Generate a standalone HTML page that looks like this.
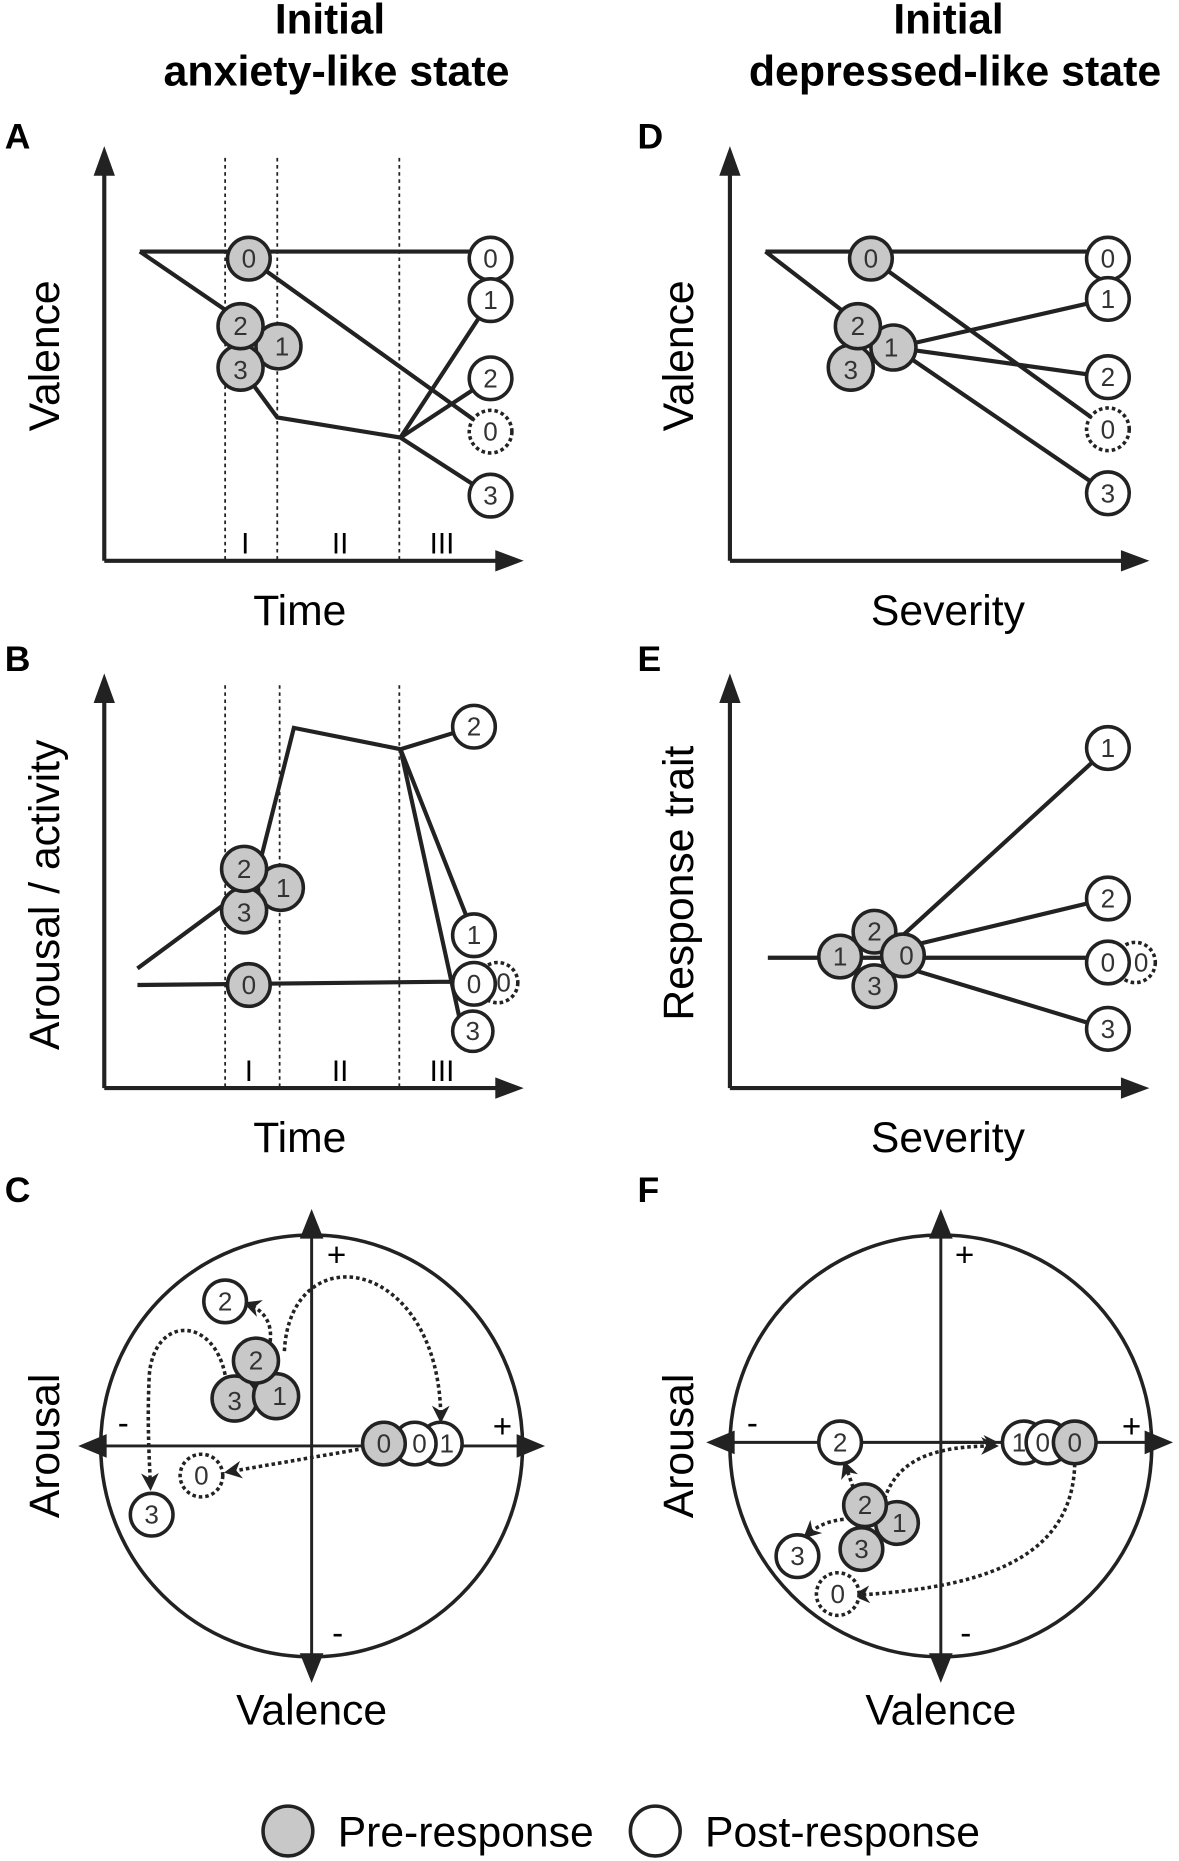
<!DOCTYPE html>
<html><head><meta charset="utf-8"><style>
html,body{margin:0;padding:0;background:#fff}
svg{display:block}
text{font-family:"Liberation Sans",sans-serif}
.n{font-size:22px;text-anchor:middle;dominant-baseline:central;fill:#333}
.g{fill:#c8c8c8;stroke:#222;stroke-width:3}
.w{fill:#fff;stroke:#222;stroke-width:3}
.d{fill:#fff;stroke:#222;stroke-width:3;stroke-dasharray:3 2.5}
.l{fill:none;stroke:#222;stroke-width:3.5}
.t{fill:none;stroke:#222;stroke-width:1.5;stroke-dasharray:3 3}
.da{fill:none;stroke:#222;stroke-width:3;stroke-dasharray:3 2.5}
.ax{font-size:36px;text-anchor:middle}
.lt{font-size:30px;font-weight:bold}
.ti{font-size:36px;font-weight:bold}
</style></head><body>
<svg width="1179" height="1861" viewBox="0 0 995 1570" xmlns="http://www.w3.org/2000/svg">
<defs>
<marker id="ah" viewBox="0 0 10 10" refX="8" refY="5" markerWidth="5" markerHeight="5" orient="auto"><path d="M0,0 L10,5 L0,10 L3,5z" fill="#222"/></marker>
</defs>
<text class="ti" x="232" y="28" textLength="93" lengthAdjust="spacingAndGlyphs">Initial</text>
<text class="ti" x="138" y="72" textLength="292" lengthAdjust="spacingAndGlyphs">anxiety-like state</text>
<text class="ti" x="754" y="28" textLength="93" lengthAdjust="spacingAndGlyphs">Initial</text>
<text class="ti" x="632" y="72" textLength="348" lengthAdjust="spacingAndGlyphs">depressed-like state</text>

<!-- Panel A -->
<text class="lt" x="4" y="125">A</text>
<path class="l" d="M88,473 V145 M88,473 H420"/>
<path d="M79,148 L88,123 L97,148z M418,464 L442,473 L418,482z" fill="#222"/>
<path class="t" d="M190,133V473 M234,133V473 M337,133V473"/>
<text class="ax" x="207" y="467" style="font-size:25px">I</text>
<text class="ax" x="287" y="467" style="font-size:25px">II</text>
<text class="ax" x="373" y="467" style="font-size:25px">III</text>
<text class="ax" x="253" y="527">Time</text>
<text class="ax" transform="translate(50,300) rotate(-90)">Valence</text>
<path class="l" d="M118,212 H414 M118,212 L200,268 M210,218 L414,364 M203,310 L234,352 L338,369 L414,253 M338,369 L414,319 M338,369 L414,418"/>
<circle class="g" cx="210" cy="218" r="18"/><text class="n" x="210" y="218">0</text>
<circle class="g" cx="235" cy="292" r="19"/><text class="n" x="238" y="292">1</text>
<circle class="g" cx="203" cy="310" r="19"/><text class="n" x="203" y="312">3</text>
<circle class="g" cx="203" cy="275" r="19"/><text class="n" x="203" y="275">2</text>
<circle class="w" cx="414" cy="218" r="18"/><text class="n" x="414" y="218">0</text>
<circle class="w" cx="414" cy="253" r="18"/><text class="n" x="414" y="253">1</text>
<circle class="w" cx="414" cy="319" r="18"/><text class="n" x="414" y="319">2</text>
<circle class="d" cx="414" cy="364" r="18"/><text class="n" x="414" y="364">0</text>
<circle class="w" cx="414" cy="418" r="18"/><text class="n" x="414" y="418">3</text>

<!-- Panel D -->
<text class="lt" x="538" y="125">D</text>
<path class="l" d="M616,473 V145 M616,473 H948"/>
<path d="M607,148 L616,123 L625,148z M946,464 L970,473 L946,482z" fill="#222"/>
<text class="ax" x="800" y="527">Severity</text>
<text class="ax" transform="translate(585,300) rotate(-90)">Valence</text>
<path class="l" d="M646,212 H935 M646,212 L724,272 M735,218 L935,362 M755,293 L935,252 M755,293 L935,318 M755,293 L935,416"/>
<circle class="g" cx="735" cy="218" r="18"/><text class="n" x="735" y="218">0</text>
<circle class="g" cx="718" cy="310" r="19"/><text class="n" x="718" y="312">3</text>
<circle class="g" cx="754" cy="293" r="19"/><text class="n" x="752" y="293">1</text>
<circle class="g" cx="724" cy="275" r="19"/><text class="n" x="724" y="275">2</text>
<circle class="w" cx="935" cy="218" r="18"/><text class="n" x="935" y="218">0</text>
<circle class="w" cx="935" cy="252" r="18"/><text class="n" x="935" y="252">1</text>
<circle class="w" cx="935" cy="318" r="18"/><text class="n" x="935" y="318">2</text>
<circle class="d" cx="935" cy="362" r="18"/><text class="n" x="935" y="362">0</text>
<circle class="w" cx="935" cy="416" r="18"/><text class="n" x="935" y="416">3</text>

<!-- Panel B -->
<text class="lt" x="4" y="566">B</text>
<path class="l" d="M88,918 V590 M88,918 H420"/>
<path d="M79,593 L88,568 L97,593z M418,909 L442,918 L418,927z" fill="#222"/>
<path class="t" d="M190,578V918 M236,578V918 M337,578V918"/>
<text class="ax" x="210" y="912" style="font-size:25px">I</text>
<text class="ax" x="287" y="912" style="font-size:25px">II</text>
<text class="ax" x="373" y="912" style="font-size:25px">III</text>
<text class="ax" x="253" y="972">Time</text>
<text class="ax" transform="translate(50,755) rotate(-90)">Arousal / activity</text>
<path class="l" d="M116,817 L200,755 M220,725 L248,614 L338,632 L400,613 M338,632 L400,789 M338,632 L388,860 M116,831 L400,828"/>
<circle class="g" cx="237" cy="749" r="19"/><text class="n" x="239" y="749">1</text>
<circle class="g" cx="206" cy="768" r="19"/><text class="n" x="206" y="770">3</text>
<circle class="g" cx="206" cy="733" r="19"/><text class="n" x="206" y="733">2</text>
<circle class="g" cx="210" cy="831" r="18"/><text class="n" x="210" y="831">0</text>
<circle class="w" cx="400" cy="613" r="18"/><text class="n" x="400" y="613">2</text>
<circle class="w" cx="400" cy="789" r="18"/><text class="n" x="400" y="789">1</text>
<circle class="d" cx="420" cy="829" r="17"/><text class="n" x="425" y="829">0</text>
<circle class="w" cx="399" cy="870" r="17"/><text class="n" x="399" y="870">3</text>
<circle class="w" cx="400" cy="830" r="18"/><text class="n" x="400" y="830">0</text>

<!-- Panel E -->
<text class="lt" x="538" y="566">E</text>
<path class="l" d="M616,918 V590 M616,918 H948"/>
<path d="M607,593 L616,568 L625,593z M946,909 L970,918 L946,927z" fill="#222"/>
<text class="ax" x="800" y="972">Severity</text>
<text class="ax" transform="translate(585,745) rotate(-90)">Response trait</text>
<path class="l" d="M648,808 H935 M750,800 L935,631 M760,800 L935,758 M760,815 L935,868"/>
<circle class="g" cx="709" cy="807" r="18"/><text class="n" x="709" y="807">1</text>
<circle class="g" cx="738" cy="786" r="18"/><text class="n" x="738" y="786">2</text>
<circle class="g" cx="738" cy="832" r="18"/><text class="n" x="738" y="832">3</text>
<circle class="g" cx="762" cy="806" r="18"/><text class="n" x="765" y="806">0</text>
<circle class="w" cx="935" cy="631" r="18"/><text class="n" x="935" y="631">1</text>
<circle class="w" cx="935" cy="758" r="18"/><text class="n" x="935" y="758">2</text>
<circle class="d" cx="958" cy="812" r="17"/><text class="n" x="963" y="812">0</text>
<circle class="w" cx="935" cy="812" r="18"/><text class="n" x="935" y="812">0</text>
<circle class="w" cx="935" cy="868" r="18"/><text class="n" x="935" y="868">3</text>

<!-- Panel C -->
<text class="lt" x="4" y="1014">C</text>
<circle cx="263" cy="1220" r="178" fill="none" stroke="#222" stroke-width="3"/>
<path class="l" d="M80,1220 H450 M263,1040 V1400" style="stroke-width:2.5"/>
<path d="M90,1210 L66,1220 L90,1230z M436,1210 L460,1220 L436,1230z M253,1045 L263,1020 L273,1045z M253,1395 L263,1420 L273,1395z" fill="#222"/>
<text x="284" y="1068" style="font-size:28px;text-anchor:middle">+</text>
<text x="104" y="1210" style="font-size:28px;text-anchor:middle">-</text>
<text x="424" y="1213" style="font-size:28px;text-anchor:middle">+</text>
<text x="285" y="1387" style="font-size:28px;text-anchor:middle">-</text>
<text class="ax" transform="translate(50,1220) rotate(-90)">Arousal</text>
<text class="ax" x="263" y="1455">Valence</text>
<path class="da" marker-end="url(#ah)" d="M228,1132 C230,1115 222,1105 208,1100"/>
<path class="da" marker-end="url(#ah)" d="M240,1140 C245,1040 372,1060 372,1198"/>
<path class="da" marker-end="url(#ah)" d="M190,1160 C180,1110 130,1110 126,1160 C124,1200 126,1230 127,1255"/>
<path class="da" marker-end="url(#ah)" d="M308,1222 L192,1242"/>
<circle class="w" cx="190" cy="1098" r="18"/><text class="n" x="190" y="1098">2</text>
<circle class="g" cx="198" cy="1180" r="19"/><text class="n" x="198" y="1182">3</text>
<circle class="g" cx="233" cy="1178" r="19"/><text class="n" x="236" y="1178">1</text>
<circle class="g" cx="216" cy="1148" r="19"/><text class="n" x="216" y="1148">2</text>
<circle class="w" cx="372" cy="1218" r="18"/><text class="n" x="377" y="1218">1</text>
<circle class="w" cx="350" cy="1218" r="18"/><text class="n" x="354" y="1218">0</text>
<circle class="g" cx="324" cy="1218" r="18"/><text class="n" x="324" y="1218">0</text>
<circle class="d" cx="170" cy="1245" r="18"/><text class="n" x="170" y="1245">0</text>
<circle class="w" cx="128" cy="1278" r="18"/><text class="n" x="128" y="1278">3</text>

<!-- Panel F -->
<text class="lt" x="538" y="1014">F</text>
<circle cx="794" cy="1220" r="178" fill="none" stroke="#222" stroke-width="3"/>
<path class="l" d="M611,1217 H980 M794,1040 V1400" style="stroke-width:2.5"/>
<path d="M620,1207 L596,1217 L620,1227z M966,1207 L990,1217 L966,1227z M784,1045 L794,1020 L804,1045z M784,1395 L794,1420 L804,1395z" fill="#222"/>
<text x="814" y="1068" style="font-size:28px;text-anchor:middle">+</text>
<text x="635" y="1210" style="font-size:28px;text-anchor:middle">-</text>
<text x="955" y="1213" style="font-size:28px;text-anchor:middle">+</text>
<text x="815" y="1387" style="font-size:28px;text-anchor:middle">-</text>
<text class="ax" transform="translate(585,1220) rotate(-90)">Arousal</text>
<text class="ax" x="794" y="1455">Valence</text>
<path class="l" d="M794,1217 H840" style="stroke-width:2.5" marker-end="url(#ah)"/>
<path class="da" marker-end="url(#ah)" d="M720,1255 L713,1235"/>
<path class="da" marker-end="url(#ah)" d="M745,1270 C755,1230 790,1220 840,1220"/>
<path class="da" marker-end="url(#ah)" d="M712,1282 C700,1283 690,1287 680,1296"/>
<path class="da" marker-end="url(#ah)" d="M907,1235 C905,1320 820,1340 722,1346"/>
<circle class="w" cx="709" cy="1217" r="18"/><text class="n" x="709" y="1217">2</text>
<circle class="g" cx="757" cy="1285" r="18"/><text class="n" x="759" y="1285">1</text>
<circle class="g" cx="727" cy="1307" r="18"/><text class="n" x="727" y="1307">3</text>
<circle class="g" cx="730" cy="1270" r="18"/><text class="n" x="730" y="1270">2</text>
<circle class="w" cx="673" cy="1313" r="18"/><text class="n" x="673" y="1313">3</text>
<circle class="d" cx="707" cy="1345" r="18"/><text class="n" x="707" y="1345">0</text>
<circle class="w" cx="864" cy="1217" r="18"/><text class="n" x="860" y="1217">1</text>
<circle class="w" cx="884" cy="1217" r="18"/><text class="n" x="880" y="1217">0</text>
<circle class="g" cx="907" cy="1217" r="18"/><text class="n" x="907" y="1217">0</text>

<!-- Legend -->
<circle class="g" cx="243" cy="1545" r="21"/>
<text x="285" y="1558" style="font-size:36px">Pre-response</text>
<circle class="w" cx="553" cy="1545" r="21"/>
<text x="595" y="1558" style="font-size:36px">Post-response</text>
</svg>
</body></html>
